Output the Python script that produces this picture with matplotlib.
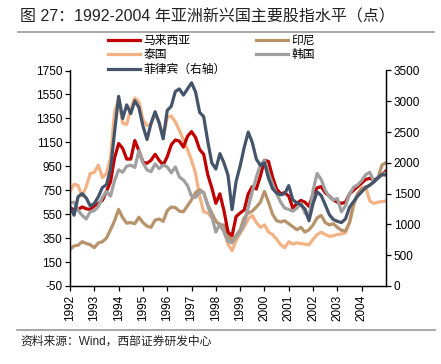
import numpy as np
import matplotlib
matplotlib.use("Agg")
import matplotlib.pyplot as plt

plt.rcParams['font.family'] = ['Liberation Sans', 'Noto Sans CJK SC', 'DejaVu Sans']
plt.rcParams['axes.unicode_minus'] = False

# 双月数据，1992.0 - 2005.0
t = 1992 + np.arange(79) / 6.0

malaysia = [600, 590, 590, 610, 595, 590, 620, 640, 665, 740, 820, 1020, 1140,
            1100, 1010, 1010, 1165, 1080, 985, 975, 1000, 1050, 1000, 960, 1030,
            1130, 1170, 1160, 1110, 1200, 1240, 1190, 1090, 1050, 880, 770, 640,
            720, 580, 400, 370, 530, 560, 585, 720, 780, 760, 870, 1000, 990, 860,
            760, 720, 730, 700, 600, 640, 665, 650, 615, 720, 770, 780, 730, 700,
            670, 650, 640, 650, 720, 750, 780, 810, 840, 850, 835, 850, 880, 910]

indonesia = [255, 285, 290, 320, 305, 295, 270, 310, 320, 350, 420, 495, 590,
             520, 475, 480, 470, 525, 480, 450, 440, 500, 510, 490, 580, 610, 605,
             575, 570, 620, 670, 730, 755, 730, 630, 560, 490, 460, 460, 370, 330,
             370, 420, 520, 560, 575, 610, 650, 740, 650, 550, 495, 485, 495, 470,
             445, 420, 440, 400, 420, 460, 520, 540, 480, 460, 470, 440, 415, 410,
             480, 640, 720, 760, 770, 790, 820, 850, 960, 980]

thailand = [740, 800, 790, 700, 780, 890, 900, 960, 855, 890, 1020, 1400, 1510,
            1310, 1300, 1430, 1520, 1490, 1340, 1290, 1300, 1390, 1320, 1190, 1360,
            1370, 1320, 1250, 1170, 1090, 1000, 890, 700, 570, 560, 520, 500, 450,
            410, 300, 245, 330, 390, 445, 510, 540, 480, 440, 460, 400, 380, 340,
            295, 270, 320, 300, 310, 305, 300, 295, 340, 380, 400, 380, 365, 370,
            380, 385, 395, 480, 615, 720, 770, 780, 660, 640, 650, 655, 660]

korea = [645, 650, 580, 540, 510, 570, 580, 615, 690, 740, 700, 830, 920, 900,
         950, 960, 940, 1080, 980, 920, 905, 970, 930, 960, 945, 895, 945, 860,
         835, 790, 700, 690, 735, 730, 620, 530, 400, 470, 400, 325, 310, 360,
         400, 470, 610, 740, 860, 960, 1000, 890, 800, 720, 650, 600, 590, 575,
         600, 640, 560, 520, 750, 890, 840, 750, 695, 670, 680, 570, 620, 720,
         775, 795, 830, 880, 900, 820, 850, 880, 895]

philippines = [1294, 1150, 1450, 1500, 1430, 1300, 1340, 1450, 1600, 1645, 1900,
               2500, 3080, 2720, 2941, 2800, 3010, 2900, 2600, 2380, 2640, 2830,
               2650, 2390, 2850, 2920, 3160, 3200, 3100, 3200, 3300, 3150, 2820,
               2750, 2350, 2000, 1900, 2150, 2000, 1800, 1240, 1700, 1950, 2250,
               2500, 2330, 2060, 1960, 2000, 1750, 1580, 1510, 1480, 1500, 1630,
               1400, 1350, 1320, 1250, 1060, 1340, 1530, 1470, 1320, 1160, 1080,
               1050, 1030, 1090, 1280, 1370, 1460, 1530, 1600, 1640, 1690, 1760,
               1810, 1800]

years = list(range(1992, 2005))

c_my = '#C00000'
c_id = '#B8926A'
c_th = '#F4B183'
c_kr = '#A0A0A0'
c_ph = '#44546A'

fig = plt.figure(figsize=(4.41, 3.64), dpi=100)
ax = fig.add_axes([70 / 441, 1 - 286 / 364, 316 / 441, 215.5 / 364])
ax2 = ax.twinx()

lw = 2.3
l_th, = ax.plot(t, thailand, color=c_th, lw=lw, label='泰国')
l_id, = ax.plot(t, indonesia, color=c_id, lw=lw, label='印尼')
l_my, = ax.plot(t, malaysia, color=c_my, lw=lw, label='马来西亚')
l_kr, = ax.plot(t, korea, color=c_kr, lw=lw, label='韩国')
l_ph, = ax2.plot(t, philippines, color=c_ph, lw=lw, label='菲律宾（右轴）')

ax.set_xlim(1992, 2005)
ax.set_ylim(-50, 1750)
ax.set_yticks(np.arange(-50, 1751, 200))
ax2.set_ylim(0, 3500)
ax2.set_yticks(np.arange(0, 3501, 500))
ax.set_xticks(years)
ax.set_xticklabels([str(y) for y in years], rotation=90)

for a in (ax, ax2):
    a.spines['top'].set_visible(False)
    for s in a.spines.values():
        s.set_linewidth(0.9)
    a.tick_params(labelsize=8.5, length=3.5, width=0.9, pad=2)
ax.tick_params(axis='x', pad=3)

fig.legend([l_my, l_th, l_ph, l_id, l_kr],
           ['马来西亚', '泰国', '菲律宾（右轴）', '印尼', '韩国'],
           ncol=2, loc='upper left', bbox_to_anchor=(108 / 441, 1 - 34 / 364),
           frameon=False, prop={'family': ['Noto Sans CJK SC'], 'size': 8.5},
           handlelength=2.7, handletextpad=0.3, columnspacing=2.6,
           labelspacing=0.12, borderpad=0, borderaxespad=0)

fig.text(20 / 441, 1 - 16.5 / 364, '图 27：1992-2004 年亚洲新兴国主要股指水平（点）',
         fontsize=11.5, va='center', ha='left', color='#222222')
fig.add_artist(plt.Line2D([18 / 441, 434 / 441], [1 - 32 / 364] * 2,
                          color='#999999', lw=1.2))
fig.add_artist(plt.Line2D([17 / 441, 435 / 441], [1 - 330 / 364] * 2,
                          color='#999999', lw=1.2))
fig.text(20 / 441, 1 - 342 / 364, '资料来源：Wind，西部证券研发中心',
         fontsize=8.5, va='center', ha='left', color='#222222')

fig.savefig('out.png', dpi=100)
